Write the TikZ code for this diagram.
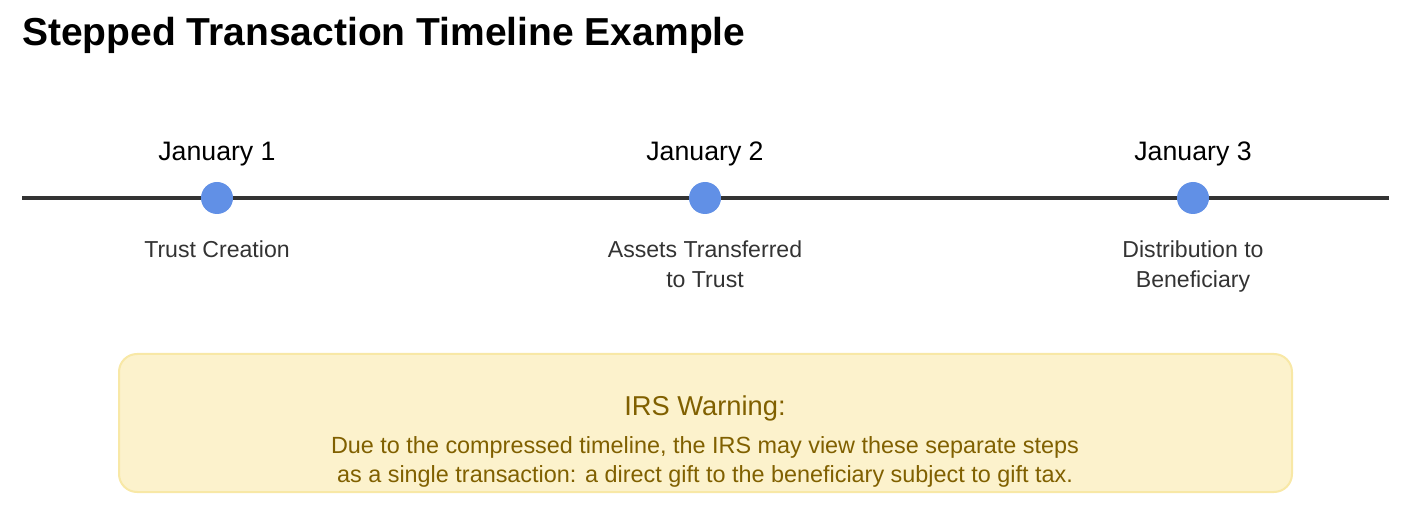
\documentclass[tikz,border=0pt]{standalone}
\usepackage{fontspec}
\setmainfont{Liberation Sans}
\definecolor{axis}{HTML}{333333}
\definecolor{dotc}{HTML}{6190E6}
\definecolor{lab}{HTML}{333333}
\definecolor{warnfill}{HTML}{FCF2CC}
\definecolor{warnedge}{HTML}{F8E8A6}
\definecolor{warntext}{HTML}{806000}
\tikzset{
  dotnode/.style={circle, fill=dotc, minimum size=32pt, inner sep=0pt},
  datelabel/.style={font=\fontsize{26.7}{30}\selectfont, text=black, inner sep=0pt},
  eventlabel/.style={font=\fontsize{23.1}{30}\selectfont, text=lab, inner sep=0pt, align=center},
  warnbox/.style={draw=warnedge, line width=2pt, fill=warnfill, rounded corners=18pt},
  warntitle/.style={font=\fontsize{27.3}{30}\selectfont, text=warntext, inner sep=0pt},
  warnbody/.style={font=\fontsize{23.4}{29}\selectfont, text=warntext, inner sep=0pt, align=center},
}
\begin{document}
\begin{tikzpicture}[x=1pt,y=-1pt]
\useasboundingbox (0,0) rectangle (1405,518);
\node[anchor=west, inner sep=0pt, font=\fontsize{39}{44}\selectfont\bfseries] (title) at (22,35) {Stepped Transaction Timeline Example};
\coordinate (ls) at (22,198);
\coordinate (le) at (1389,198);
\draw[axis, line width=4pt] (ls) -- (le);
\node[dotnode] (d1) at (217,198) {};
\node[dotnode] (d2) at (705,198) {};
\node[dotnode] (d3) at (1193,198) {};
\node[datelabel] (j1) at (217,154) {January 1};
\node[datelabel] (j2) at (705,154) {January 2};
\node[datelabel] (j3) at (1193,154) {January 3};
\node[eventlabel, anchor=north] (e1) at (217,241) {Trust Creation};
\node[eventlabel, anchor=north] (e2) at (705,241) {Assets Transferred\\to Trust};
\node[eventlabel, anchor=north] (e3) at (1193,241) {Distribution to\\Beneficiary};
\draw[warnbox] (119,354) rectangle (1292,492);
\node[warntitle] (wt) at (705,408) {IRS Warning:};
\node[warnbody, anchor=north] (wb) at (705,436) {Due to the compressed timeline, the IRS may view these separate steps\\as a single transaction: a direct gift to the beneficiary subject to gift tax.};
\end{tikzpicture}
\end{document}
